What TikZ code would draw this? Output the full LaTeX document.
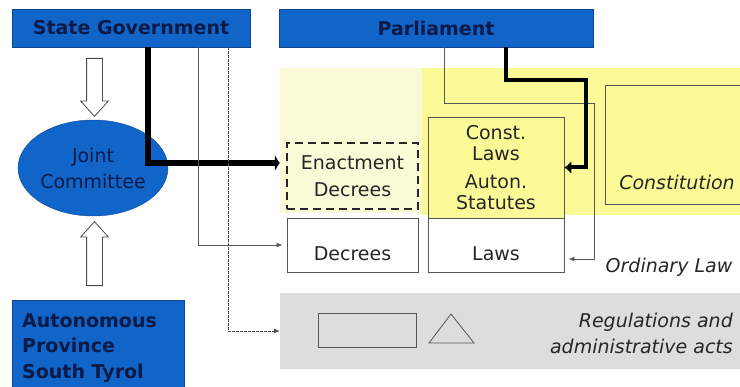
\documentclass[tikz,border=0pt]{standalone}
\usepackage{fontspec}
\setmainfont{DejaVu Sans}
\usetikzlibrary{arrows.meta,shapes.geometric,shapes.arrows}

\definecolor{govblue}{RGB}{17,100,200}
\definecolor{navytext}{RGB}{12,26,72}
\definecolor{lawyellow}{RGB}{252,250,150}
\definecolor{paleyellow}{RGB}{251,250,214}
\definecolor{bandgray}{RGB}{221,221,221}
\definecolor{boxgray}{RGB}{85,85,85}

\tikzset{
	govbox/.style={draw=govblue!70!black, fill=govblue, inner sep=0pt, text=navytext, font=\bfseries\fontsize{19}{25.5}\selectfont},
	govlabel/.style={inner sep=0pt, align=left, text=navytext, font=\bfseries\fontsize{19}{25.5}\selectfont},
	jointell/.style={ellipse, draw=govblue!75!black, fill=govblue, minimum width=150pt, minimum height=96pt, inner sep=0pt, align=center, text=navytext, font=\fontsize{19}{26}\selectfont},
	actbox/.style={draw=boxgray, line width=0.8pt, inner sep=0pt, align=center, text=black!85, font=\fontsize{19}{27}\selectfont},
	enactbox/.style={actbox, draw=black!85, line width=2.5pt, dash pattern=on 8pt off 5pt},
	lawlabel/.style={inner sep=0pt, text=black!85, font=\itshape\fontsize{19}{26}\selectfont},
	bandarea/.style={fill=bandgray, inner sep=0pt},
	shapeline/.style={draw=boxgray, line width=0.8pt},
	hollowarrow/.style={single arrow, draw=black!70, fill=white, line width=0.8pt, inner sep=0pt, text height=15pt, single arrow head extend=6pt, single arrow tip angle=84},
	boldline/.style={line width=6pt, draw=black},
	parline/.style={line width=4pt, draw=black, -{Latex[length=7pt,width=13pt]}},
	greyline/.style={line width=0.9pt, draw=gray!70!black, -{Latex[length=6pt,width=5pt]}},
	dotline/.style={line width=0.8pt, draw=gray!60!black, dash pattern=on 2.5pt off 1.5pt, -{Latex[length=6pt,width=5pt]}}
}

\begin{document}
\begin{tikzpicture}[x=1pt,y=-1pt]

	%Background
	\useasboundingbox (0,0) rectangle (740,387);
	\fill[white] (0,0) rectangle (740,387);

	%Yellow ground
	\fill[paleyellow] (280,68) rectangle (422,213);
	\fill[lawyellow] (422,68) rectangle (740,215);

	%Grey band
	\node[bandarea, minimum width=460pt, minimum height=76pt] (regband) at (510,331) {};
	\draw[shapeline] (318,313) rectangle (416,347);
	\draw[shapeline] (429,343) -- (451,314) -- (474,343) -- cycle;

	%Constitution frame
	\node[actbox, fill=lawyellow, anchor=north west, minimum width=160pt, minimum height=119pt] (constbox) at (605,85) {};

	%Actors
	\node[govbox, minimum width=238pt, minimum height=38pt] (stategov) at (131,28) {State Government};
	\node[govbox, minimum width=314pt, minimum height=38pt] (parl) at (436,28) {Parliament};
	\node[jointell] (joint) at (93,168) {Joint\\Committee};
	\node[govbox, anchor=north west, minimum width=172pt, minimum height=100pt] (auton) at (12,300) {};
	\node[govlabel, anchor=north west] (autonlbl) at (22,313) {Autonomous\\Province\\South Tyrol};

	%Acts
	\node[enactbox, minimum width=131pt, minimum height=66pt] (enact) at (352.5,176) {Enactment\\Decrees};
	\node[actbox, minimum width=131pt, minimum height=54pt, text height=32pt] (decrees) at (352.5,245) {Decrees};
	\node[actbox, fill=lawyellow, minimum width=136pt, minimum height=101pt, font=\fontsize{19}{21}\selectfont] (const) at (496,167.5) {Const.\\Laws\\[7pt]Auton.\\Statutes};
	\node[actbox, minimum width=136pt, minimum height=54pt, text height=32pt] (laws) at (496,245) {Laws};

	%Labels
	\node[lawlabel, anchor=base] (constlbl) at (677,190) {Constitution};
	\node[lawlabel, anchor=base] (ordlbl) at (669,273) {Ordinary Law};
	\node[lawlabel, anchor=north east, align=right] (reglbl) at (733,312.6) {Regulations and\\administrative acts};

	%Hollow arrows
	\node[hollowarrow, rotate=-90, minimum height=58pt] (govdown) at (94.5,83) {};
	\node[hollowarrow, rotate=90, minimum height=64pt] (provup) at (94.5,258) {};

	%Connectors
	\coordinate (plbend) at (594,103);
	\coordinate (ptbend) at (586,80);
	\draw[boldline, -{Latex[length=5pt,width=18pt]}, shorten >=6pt] ([xshift=17pt]stategov.south) |- ([yshift=13pt]enact.west);
	\draw[greyline, shorten >=4pt] ([xshift=67pt]stategov.south) |- (decrees.west);
	\draw[dotline] ([xshift=97pt]stategov.south) |- (regband.west);
	\draw[greyline, shorten >=4pt] ([xshift=8pt]parl.south) |- (plbend) |- ([yshift=-14pt]laws.east);
	\draw[parline] ([xshift=70pt]parl.south) |- (ptbend) |- (const.east);

\end{tikzpicture}
\end{document}
